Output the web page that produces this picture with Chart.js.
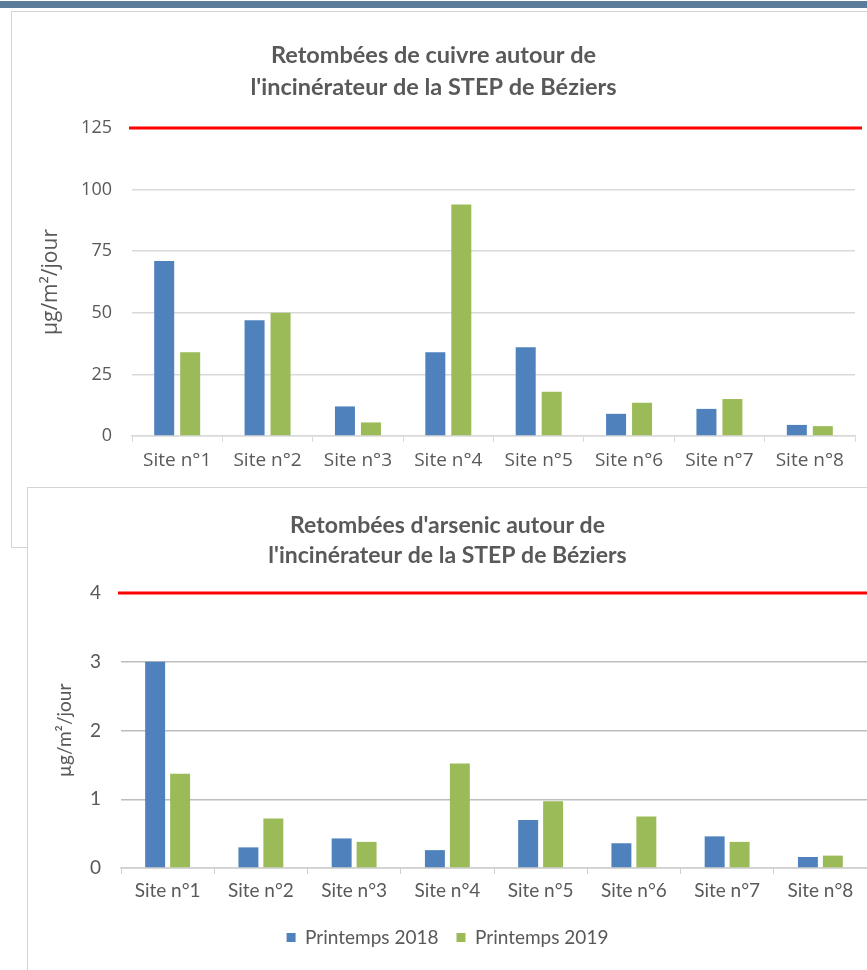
<!DOCTYPE html>
<html>
<head>
<meta charset="utf-8">
<script src="https://cdn.jsdelivr.net/npm/chart.js@4.4.1/dist/chart.umd.min.js"></script>
<style>
  html, body { margin: 0; padding: 0; background: #fff; }
  body { width: 867px; height: 970px; position: relative; overflow: hidden; }
  #topbar { position: absolute; left: 0; top: 1px; width: 867px; height: 7px; background: #5b7c9b; }
  #panel1 { position: absolute; left: 11px; top: 11px; width: 900px; height: 535px; border: 1px solid #d4d4d4; background: #fff; }
  #panel2 { position: absolute; left: 27px; top: 487px; width: 900px; height: 520px; border: 1px solid #d4d4d4; background: #fff; }
  #cuivre_chart { position: absolute; left: 0; top: 0; }
  #arsenic_chart { position: absolute; left: 0; top: 0; }
</style>
</head>
<body>
<div id="topbar"></div>
<div id="panel1"><canvas id="cuivre_chart" width="855" height="470"></canvas></div>
<div id="panel2"><canvas id="arsenic_chart" width="839" height="482"></canvas></div>
<script>
var sites = ["Site n°1", "Site n°2", "Site n°3", "Site n°4", "Site n°5", "Site n°6", "Site n°7", "Site n°8"];
var seriesNames = ["Printemps 2018", "Printemps 2019"];

// retombées de cuivre (µg/m²/jour)
var cuivre2018 = [71, 47, 12, 34, 36, 9, 11, 4.5];
var cuivre2019 = [34, 50, 5.5, 94, 18, 13.5, 15, 4];
var cuivreLimit = 125;

// retombées d'arsenic (µg/m²/jour)
var arsenic2018 = [3.0, 0.3, 0.43, 0.26, 0.7, 0.36, 0.46, 0.16];
var arsenic2019 = [1.37, 0.72, 0.38, 1.52, 0.97, 0.75, 0.38, 0.18];
var arsenicLimit = 4;

var blue = "#4f81bd";
var green = "#9bbb59";
var txt = "#595959";

// ligne rouge de la valeur limite
var limitLine = {
  id: "limitLine",
  beforeDatasetsDraw: function (chart, args, opts) {
    var y = chart.scales.y.getPixelForValue(opts.value);
    var ctx = chart.ctx;
    ctx.save();
    ctx.strokeStyle = "#ff0000";
    ctx.lineWidth = 3;
    ctx.beginPath();
    ctx.moveTo(chart.chartArea.left - 3, y);
    ctx.lineTo(chart.chartArea.right + opts.extend, y);
    ctx.stroke();
    ctx.restore();
  },
};

var ctx1 = document.getElementById("cuivre_chart").getContext("2d");
var cuivre_chart = new Chart(ctx1, {
  type: "bar",
  data: {
    labels: sites,
    datasets: [
      { label: seriesNames[0], data: cuivre2018, backgroundColor: blue },
      { label: seriesNames[1], data: cuivre2019, backgroundColor: green },
    ],
  },
  plugins: [limitLine],
  options: {
    responsive: false,
    animation: false,
    categoryPercentage: 0.575,
    barPercentage: 0.77,
    layout: { padding: { left: 0, right: 12, top: 0, bottom: 11 } },
    scales: {
      x: {
        afterFit: function (s) { s.height = 35; },
        grid: { drawOnChartArea: false, drawTicks: true, tickLength: 6, color: "#d9d9d9" },
        border: { color: "#d9d9d9", width: 1.5 },
        ticks: { font: { family: "Open Sans", size: 19 }, color: txt, padding: 7, maxRotation: 0 },
      },
      y: {
        min: 0,
        max: 125,
        afterFit: function (s) { s.width = 120; },
        grid: { drawTicks: false, color: "#d9d9d9", lineWidth: 1.5 },
        border: { display: false },
        ticks: { stepSize: 25, font: { family: "Open Sans", size: 18 }, color: txt, padding: 20 },
        title: {
          display: true,
          text: "µg/m²/jour",
          font: { family: "Open Sans", size: 21 },
          color: txt,
          padding: { top: 26, bottom: 0 },
        },
      },
    },
    plugins: {
      legend: { display: false },
      tooltip: { enabled: false },
      limitLine: { value: cuivreLimit, extend: 7 },
      title: {
        display: true,
        text: ["Retombées de cuivre autour de", "l'incinérateur de la STEP de Béziers"],
        color: txt,
        font: { family: "Lato", weight: "bold", size: 23.5, lineHeight: 32 / 23.5 },
        padding: { top: 27, bottom: 25 },
      },
    },
  },
});

var ctx2 = document.getElementById("arsenic_chart").getContext("2d");
var arsenic_chart = new Chart(ctx2, {
  type: "bar",
  data: {
    labels: sites,
    datasets: [
      { label: seriesNames[0], data: arsenic2018, backgroundColor: blue },
      { label: seriesNames[1], data: arsenic2019, backgroundColor: green },
    ],
  },
  plugins: [limitLine],
  options: {
    responsive: false,
    animation: false,
    categoryPercentage: 0.535,
    barPercentage: 0.8,
    layout: { padding: { left: 0, right: 0, top: 0, bottom: 13 } },
    scales: {
      x: {
        afterFit: function (s) { s.height = 42; },
        grid: { drawOnChartArea: false, drawTicks: true, tickLength: 6, color: "#d0d0d0" },
        border: { color: "#d0d0d0", width: 1.5 },
        ticks: { font: { family: "Lato", size: 19 }, color: txt, padding: 5, maxRotation: 0 },
      },
      y: {
        min: 0,
        max: 4,
        afterFit: function (s) { s.width = 93; },
        grid: { drawTicks: false, color: "#bdbdbd", lineWidth: 1.5 },
        border: { display: false },
        ticks: { stepSize: 1, font: { family: "Lato", size: 19 }, color: txt, padding: 20 },
        title: {
          display: true,
          text: "µg/m²/jour",
          font: { family: "Lato", size: 19 },
          color: txt,
          padding: { top: 25.6, bottom: 0 },
        },
      },
    },
    plugins: {
      tooltip: { enabled: false },
      limitLine: { value: arsenicLimit, extend: 10 },
      legend: {
        position: "bottom",
        labels: { font: { family: "Lato", size: 19 }, color: txt, boxWidth: 9, boxHeight: 9, padding: 18 },
      },
      title: {
        display: true,
        text: ["Retombées d'arsenic autour de", "l'incinérateur de la STEP de Béziers"],
        color: txt,
        font: { family: "Lato", weight: "bold", size: 23, lineHeight: 30 / 23 },
        padding: { top: 23, bottom: 22 },
      },
    },
  },
});
</script>
</body>
</html>
